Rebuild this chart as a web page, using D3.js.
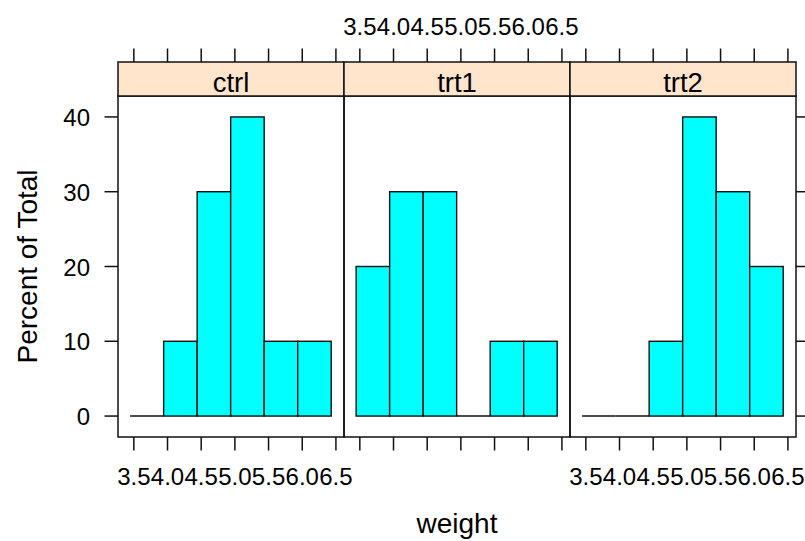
<!DOCTYPE html>
<meta charset="utf-8">
<style>
body { margin: 0; background: #fff; }
text { font-family: "Liberation Sans", Arial, sans-serif; fill: #000; }
.frame { fill: none; stroke: #111; stroke-width: 1.5px; }
.tick { stroke: #111; stroke-width: 1.5px; }
.bar { fill: #00ffff; stroke: #111; stroke-width: 1.4px; }
.base { stroke: #111; stroke-width: 1.6px; }
</style>
<body>
<script src="https://d3js.org/d3.v7.min.js"></script>
<script>

// data: percent of total per bin, one array per group
var groups = ["ctrl", "trt1", "trt2"];
var breaks = [3.445, 3.9425, 4.44, 4.9375, 5.435, 5.9325, 6.43];
var ctrlPct = [0, 10, 30, 40, 10, 10];
var trt1Pct = [20, 30, 30, 0, 10, 10];
var trt2Pct = [0, 0, 10, 40, 30, 20];
var xTicks = [3.5, 4.0, 4.5, 5.0, 5.5, 6.0, 6.5];
var xTickLabels = ["3.5", "4.0", "4.5", "5.0", "5.5", "6.0", "6.5"];
var yTicks = [0, 10, 20, 30, 40];
var pcts = [ctrlPct, trt1Pct, trt2Pct];

// layout
var W = 805, H = 541;
var pLeft = 118, pRight = 796, pTop = 96, pBottom = 437;
var stripTop = 62;
var panelW = (pRight - pLeft) / 3;
var tl = 13.5; // tick length

var svg = d3.select("body").append("svg")
    .attr("width", W)
    .attr("height", H);

var y = d3.scaleLinear().domain([-2.8, 42.8]).range([pBottom, pTop]);

groups.forEach(function(g, i) {
  var x0 = pLeft + i * panelW;
  var x = d3.scaleLinear().domain([3.265, 6.62]).range([x0, x0 + panelW]);
  var p = svg.append("g");

  var bins = pcts[i].map(function(v, j) {
    return {x0: breaks[j], x1: breaks[j + 1], v: v};
  });

  // zero-height bins show as a line at 0
  p.selectAll("line.base").data(bins.filter(function(d) { return d.v === 0; }))
    .enter().append("line")
      .attr("class", "base")
      .attr("x1", function(d) { return x(d.x0); })
      .attr("x2", function(d) { return x(d.x1); })
      .attr("y1", y(0)).attr("y2", y(0));

  p.selectAll("rect.bar").data(bins.filter(function(d) { return d.v > 0; }))
    .enter().append("rect")
      .attr("class", "bar")
      .attr("x", function(d) { return x(d.x0); })
      .attr("width", function(d) { return x(d.x1) - x(d.x0); })
      .attr("y", function(d) { return y(d.v); })
      .attr("height", function(d) { return y(0) - y(d.v); });

  // panel border
  p.append("rect").attr("class", "frame")
      .attr("x", x0).attr("y", pTop)
      .attr("width", panelW).attr("height", pBottom - pTop);

  // strip
  p.append("rect")
      .attr("x", x0).attr("y", stripTop)
      .attr("width", panelW).attr("height", pTop - stripTop)
      .attr("fill", "#ffe5cc").attr("stroke", "#111").attr("stroke-width", 1.5);
  p.append("text")
      .attr("x", x0 + panelW / 2).attr("y", 91.5)
      .attr("text-anchor", "middle")
      .style("font-size", "27.5px")
      .text(g);

  // ticks top and bottom
  p.selectAll("line.bt").data(xTicks).enter().append("line")
      .attr("class", "tick")
      .attr("x1", function(d) { return x(d); }).attr("x2", function(d) { return x(d); })
      .attr("y1", pBottom).attr("y2", pBottom + tl);
  p.selectAll("line.tt").data(xTicks).enter().append("line")
      .attr("class", "tick")
      .attr("x1", function(d) { return x(d); }).attr("x2", function(d) { return x(d); })
      .attr("y1", stripTop).attr("y2", stripTop - tl);

  // labels alternate: bottom for panels 1 and 3, top for panel 2
  var ly = (i === 1) ? 35 : 485;
  p.selectAll("text.xl").data(xTicks).enter().append("text")
      .attr("x", function(d) { return x(d); })
      .attr("y", ly)
      .attr("text-anchor", "middle")
      .style("font-size", "24px")
      .text(function(d, k) { return xTickLabels[k]; });
});

// y ticks on left and right
svg.selectAll("line.yl").data(yTicks).enter().append("line")
    .attr("class", "tick")
    .attr("x1", pLeft - tl).attr("x2", pLeft)
    .attr("y1", function(d) { return y(d); }).attr("y2", function(d) { return y(d); });
svg.selectAll("line.yr").data(yTicks).enter().append("line")
    .attr("class", "tick")
    .attr("x1", pRight).attr("x2", pRight + tl)
    .attr("y1", function(d) { return y(d); }).attr("y2", function(d) { return y(d); });
svg.selectAll("text.yt").data(yTicks).enter().append("text")
    .attr("x", 90)
    .attr("y", function(d) { return y(d) + 9; })
    .attr("text-anchor", "end")
    .style("font-size", "24px")
    .text(function(d) { return d; });

// axis titles
svg.append("text")
    .attr("x", (pLeft + pRight) / 2).attr("y", 533)
    .attr("text-anchor", "middle")
    .style("font-size", "28px")
    .text("weight");
svg.append("text")
    .attr("transform", "translate(36.5," + ((pTop + pBottom) / 2) + ") rotate(-90)")
    .attr("text-anchor", "middle")
    .style("font-size", "28px")
    .text("Percent of Total");

</script>
</body>
